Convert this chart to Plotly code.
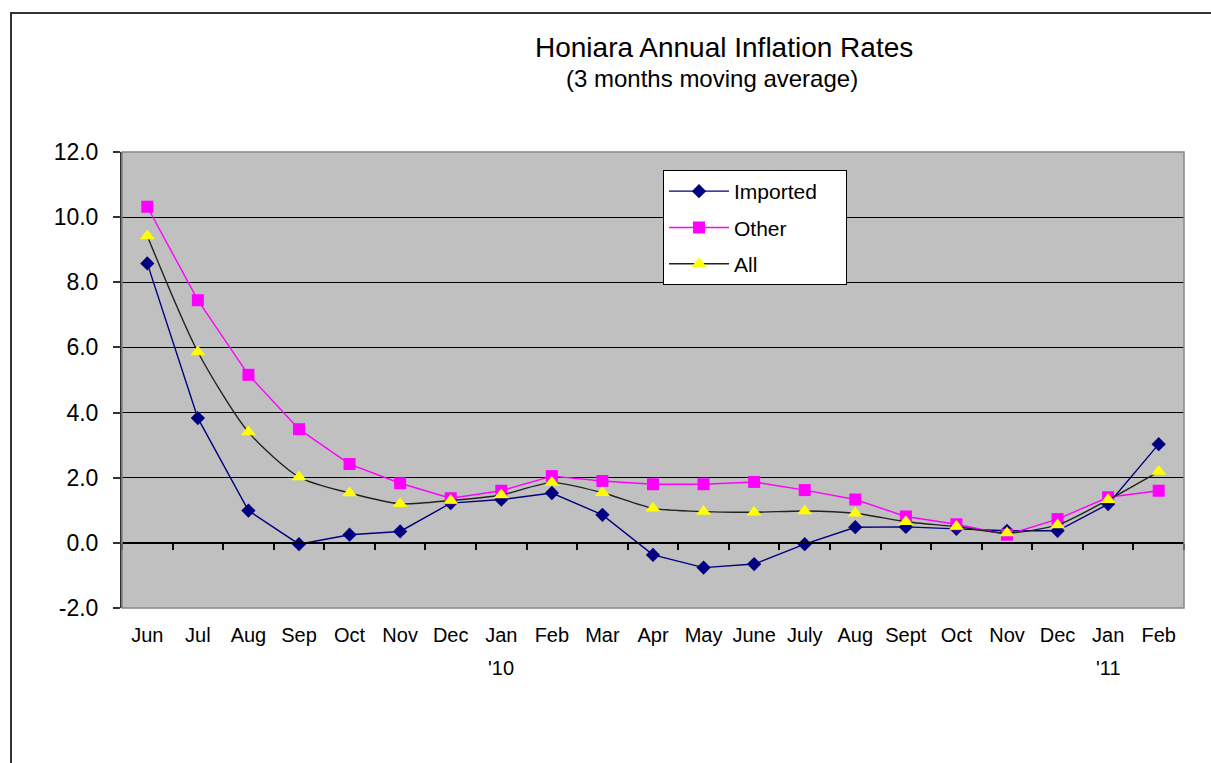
import plotly.graph_objects as go

months = ['Jun', 'Jul', 'Aug', 'Sep', 'Oct', 'Nov', 'Dec', 'Jan', 'Feb', 'Mar', 'Apr',
          'May', 'June', 'July', 'Aug', 'Sept', 'Oct', 'Nov', 'Dec', 'Jan', 'Feb']
imported = [8.58, 3.83, 0.99, -0.04, 0.25, 0.35, 1.22, 1.33, 1.53, 0.86, -0.37,
            -0.76, -0.65, -0.04, 0.48, 0.49, 0.43, 0.37, 0.37, 1.19, 3.03]
other = [10.32, 7.45, 5.16, 3.49, 2.42, 1.83, 1.37, 1.60, 2.05, 1.90, 1.80,
         1.80, 1.87, 1.62, 1.33, 0.81, 0.57, 0.25, 0.73, 1.40, 1.60]
all_items = [9.42, 5.86, 3.40, 2.02, 1.53, 1.20, 1.30, 1.47, 1.85, 1.54, 1.06,
             0.96, 0.94, 0.98, 0.91, 0.65, 0.50, 0.30, 0.55, 1.32, 2.19]
series_names = ['Imported', 'Other', 'All']
year_labels = ["'10", "'11"]
year_pos = [7, 19]
y_ticks = [-2, 0, 2, 4, 6, 8, 10, 12]
y_tick_text = ['-2.0', '0.0', '2.0', '4.0', '6.0', '8.0', '10.0', '12.0']

FONT = "Liberation Sans, Arial, sans-serif"
x_idx = list(range(len(months)))
boundaries = [i - 0.5 for i in range(len(months) + 1)]
PAD = '\u00a0' * 4

fig = go.Figure()
fig.add_trace(go.Scatter(
    x=x_idx, y=imported, name=series_names[0] + PAD, mode='lines+markers',
    line=dict(color='#000080', width=1.4),
    marker=dict(symbol='diamond', size=11, color='#000080'),
    legendgroup='a'))
fig.add_trace(go.Scatter(
    x=x_idx, y=other, name=series_names[1] + PAD, mode='lines+markers',
    line=dict(color='#FF00FF', width=1.4),
    marker=dict(symbol='square', size=12, color='#FF00FF'),
    legendgroup='b'))
fig.add_trace(go.Scatter(
    x=x_idx, y=all_items, name=series_names[2] + PAD, mode='lines+markers',
    line=dict(color='#222222', width=1.4, shape='spline', smoothing=0.7),
    marker=dict(symbol='triangle-up', size=13, color='#FFFF00'),
    legendgroup='c'))
# invisible trace to register the zero-line category axis
fig.add_trace(go.Scatter(
    x=x_idx, y=[None] * len(x_idx), xaxis='x2', showlegend=False,
    hoverinfo='skip', mode='lines'))

fig.update_layout(
    width=1211, height=763,
    margin=dict(l=122, r=27, t=152, b=155),
    paper_bgcolor='white', plot_bgcolor='#C0C0C0',
    font=dict(family=FONT, color='black'),
    showlegend=True,
    legend=dict(
        x=(663 - 122) / 1062, y=1 - (170 - 152) / 456,
        xanchor='left', yanchor='top',
        bgcolor='white', bordercolor='black', borderwidth=1,
        font=dict(family=FONT, size=21, color='black'),
        traceorder='grouped', tracegroupgap=6,
        itemwidth=60,
    ),
    xaxis=dict(
        range=[-0.5, len(months) - 0.5],
        tickmode='array', tickvals=x_idx, ticktext=months,
        ticks='', showgrid=False, zeroline=False, showline=False,
        tickfont=dict(family=FONT, size=20, color='black'),
        ticklabelstandoff=13,
    ),
    xaxis2=dict(
        overlaying='x', anchor='free', position=2 / 14, side='bottom',
        range=[-0.5, len(months) - 0.5],
        tickmode='array', tickvals=boundaries, showticklabels=False,
        ticks='outside', ticklen=6, tickwidth=1.5, tickcolor='black',
        showline=True, linecolor='black', linewidth=1.5,
        showgrid=False, zeroline=False,
    ),
    yaxis=dict(
        range=[-2, 12], tickmode='array', tickvals=y_ticks, ticktext=y_tick_text,
        showgrid=True, gridcolor='black', gridwidth=1,
        zeroline=False,
        showline=True, linecolor='#333333', linewidth=2,
        ticks='outside', ticklen=7, tickcolor='#333333', tickwidth=1.5,
        tickfont=dict(family=FONT, size=23, color='black'),
        ticklabelstandoff=10,
    ),
    shapes=[
        dict(type='rect', xref='paper', yref='paper', x0=0, x1=1, y0=0, y1=1,
             line=dict(color='#888888', width=1.5), fillcolor='rgba(0,0,0,0)',
             layer='above'),
        dict(type='rect', xref='paper', yref='paper',
             x0=(11 - 122) / 1062, x1=1.3, y0=-0.6, y1=1 - (13 - 152) / 456,
             line=dict(color='#333333', width=2), fillcolor='rgba(0,0,0,0)'),
    ],
    annotations=[
        dict(text='Honiara Annual Inflation Rates', xref='paper', yref='paper',
             x=(724 - 122) / 1062, y=1 - (47 - 152) / 456, xanchor='center',
             yanchor='middle', showarrow=False,
             font=dict(family=FONT, size=28, color='black')),
        dict(text='(3 months moving average)', xref='paper', yref='paper',
             x=(712 - 122) / 1062, y=1 - (78 - 152) / 456, xanchor='center',
             yanchor='middle', showarrow=False,
             font=dict(family=FONT, size=24, color='black')),
    ] + [
        dict(text=lbl, xref='x', yref='paper', x=pos, y=1 - (668 - 152) / 456,
             xanchor='center', yanchor='middle', showarrow=False,
             font=dict(family=FONT, size=20, color='black'))
        for lbl, pos in zip(year_labels, year_pos)
    ],
)

fig.write_html("out.html",
               config={'displayModeBar': False},
               post_script="document.body.style.margin='0px';document.body.style.overflow='hidden';")
